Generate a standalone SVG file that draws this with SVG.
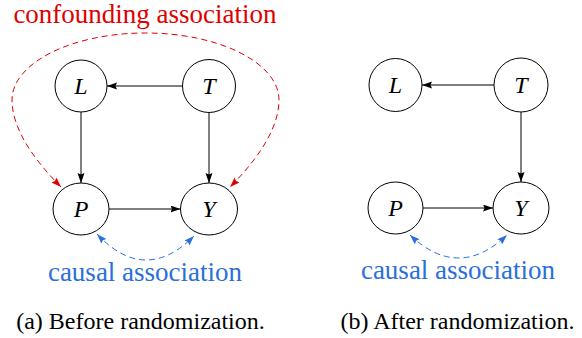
<svg xmlns="http://www.w3.org/2000/svg" width="582" height="338" viewBox="0 0 582 338">
<style>
.node{fill:#fff;stroke:#000;stroke-width:1}
.lab{font-style:italic;font-size:24px;text-anchor:middle;fill:#000}
.edge{stroke:#000;stroke-width:1;fill:none;marker-end:url(#ak)}
.red{stroke:#e00000;stroke-width:1;fill:none;stroke-dasharray:6 4;marker-start:url(#ar);marker-end:url(#ar)}
.blue{stroke:#2a6fdb;stroke-width:1;fill:none;stroke-dasharray:6 4;marker-start:url(#ab);marker-end:url(#ab)}
.ttl{font-size:27px;text-anchor:middle}
.cap{font-size:24px;text-anchor:middle;fill:#000}
</style>
<defs>
<marker id="ak" markerUnits="userSpaceOnUse" markerWidth="11" markerHeight="8" refX="10" refY="3.5" orient="auto"><path d="M0,0 L10,3.5 L0,7 L1.5,3.5 Z" fill="#000"/></marker>
<marker id="ar" markerUnits="userSpaceOnUse" markerWidth="11" markerHeight="8" refX="10" refY="3.5" orient="auto-start-reverse"><path d="M0,0 L10,3.5 L0,7 L1.5,3.5 Z" fill="#e00000"/></marker>
<marker id="ab" markerUnits="userSpaceOnUse" markerWidth="11" markerHeight="8" refX="10" refY="3.5" orient="auto-start-reverse"><path d="M0,0 L10,3.5 L0,7 L1.5,3.5 Z" fill="#2a6fdb"/></marker>
</defs>

<g id="connectors">
<line class="edge" x1="182.5" y1="86" x2="107" y2="86"/>
<line class="edge" x1="81" y1="112" x2="81" y2="183"/>
<line class="edge" x1="209" y1="112.5" x2="209" y2="183"/>
<line class="edge" x1="109" y1="209" x2="180.5" y2="209"/>
<path class="red" d="M61,187 C36,162 12,130 12,100 C12,63 71.8,33 145.5,33 C219.2,33 279,63 279,100 C279,130 255,162 230,187"/>
<path class="blue" d="M97,234 Q145,285 194,236"/>
<line class="edge" x1="494" y1="85" x2="422" y2="85"/>
<line class="edge" x1="521" y1="112" x2="521" y2="182"/>
<line class="edge" x1="423" y1="208" x2="493" y2="208"/>
<path class="blue" d="M410,235 Q458.5,281 507,235"/>
</g>

<g id="a-L"><circle class="node" cx="81" cy="86" r="26"/><text class="lab" font-family="serif" x="81" y="94">L</text></g>
<g id="a-T"><circle class="node" cx="209" cy="86" r="26.5"/><text class="lab" font-family="serif" x="209" y="94">T</text></g>
<g id="a-P"><ellipse class="node" cx="81" cy="209" rx="28" ry="26"/><text class="lab" font-family="serif" x="81" y="217">P</text></g>
<g id="a-Y"><ellipse class="node" cx="209" cy="209" rx="28.5" ry="26"/><text class="lab" font-family="serif" x="209" y="217">Y</text></g>

<g id="b-L"><circle class="node" cx="395.5" cy="85" r="26.5"/><text class="lab" font-family="serif" x="395.5" y="93">L</text></g>
<g id="b-T"><circle class="node" cx="521" cy="85" r="27"/><text class="lab" font-family="serif" x="521" y="93">T</text></g>
<g id="b-P"><ellipse class="node" cx="395.5" cy="208" rx="27.5" ry="26"/><text class="lab" font-family="serif" x="395.5" y="216">P</text></g>
<g id="b-Y"><ellipse class="node" cx="521" cy="208" rx="28" ry="26"/><text class="lab" font-family="serif" x="521" y="216">Y</text></g>

<text class="ttl" font-family="serif" x="145" y="23" fill="#e00000">confounding association</text>
<text class="ttl" font-family="serif" x="145" y="281" fill="#2a6fdb">causal association</text>
<text class="ttl" font-family="serif" x="458" y="279" fill="#2a6fdb">causal association</text>
<text class="cap" font-family="serif" x="140.5" y="329">(a) Before randomization.</text>
<text class="cap" font-family="serif" x="457.5" y="329">(b) After randomization.</text>
</svg>
